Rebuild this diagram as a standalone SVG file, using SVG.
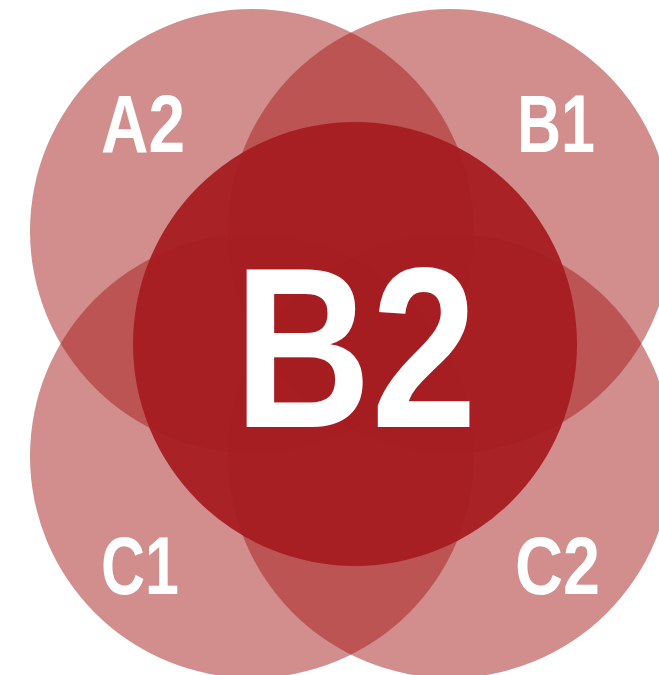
<svg xmlns="http://www.w3.org/2000/svg" width="659" height="675" viewBox="0 0 659 675">
<style>
.c{fill:#A51B1B;fill-opacity:0.5}
.t{font-family:"Liberation Sans",Arial,sans-serif;font-weight:bold;fill:#ffffff}
</style>
<rect width="659" height="675" fill="#ffffff"/>
<g id="A2"><circle class="c" cx="252" cy="231" r="222"/></g>
<g id="B1"><circle class="c" cx="450" cy="231" r="222"/></g>
<g id="C1"><circle class="c" cx="252" cy="456" r="222"/></g>
<g id="C2"><circle class="c" cx="450" cy="456" r="222"/></g>
<g id="B2"><circle cx="355" cy="344" r="222" fill="#A51D21" fill-opacity="0.96"/></g>
<g id="labels">
<text class="t" x="101" y="152" font-size="81" textLength="84" lengthAdjust="spacingAndGlyphs">A2</text>
<text class="t" x="517" y="152" font-size="81" textLength="78" lengthAdjust="spacingAndGlyphs">B1</text>
<text class="t" x="234" y="427" font-size="229" textLength="243" lengthAdjust="spacingAndGlyphs">B2</text>
<text class="t" x="101" y="594" font-size="81" textLength="78" lengthAdjust="spacingAndGlyphs">C1</text>
<text class="t" x="515" y="594" font-size="81" textLength="85" lengthAdjust="spacingAndGlyphs">C2</text>
</g>
</svg>
